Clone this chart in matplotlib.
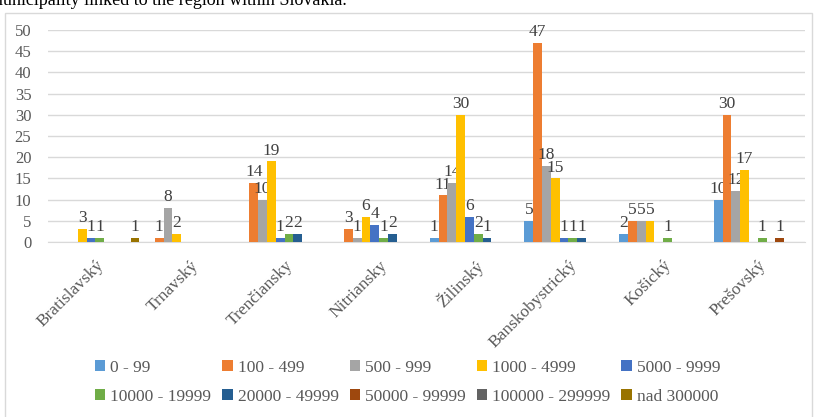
import matplotlib
matplotlib.use("Agg")
import matplotlib.pyplot as plt
import numpy as np
from matplotlib.patches import Rectangle

regions = ["Bratislavský", "Trnavský", "Trenčiansky", "Nitriansky",
           "Žilinský", "Banskobystrický", "Košický", "Prešovský"]

size_classes = ["0 - 99", "100 - 499", "500 - 999", "1000 - 4999", "5000 - 9999",
                "10000 - 19999", "20000 - 49999", "50000 - 99999",
                "100000 - 299999", "nad 300000"]

# counts per size class, one value per region (same order as regions)
s_0_99 = [0, 0, 0, 0, 1, 5, 2, 10]
s_100_499 = [0, 1, 14, 3, 11, 47, 5, 30]
s_500_999 = [0, 8, 10, 1, 14, 18, 5, 12]
s_1000_4999 = [3, 2, 19, 6, 30, 15, 5, 17]
s_5000_9999 = [1, 0, 1, 4, 6, 1, 0, 0]
s_10000_19999 = [1, 0, 2, 1, 2, 1, 1, 1]
s_20000_49999 = [0, 0, 2, 2, 1, 1, 0, 0]
s_50000_99999 = [0, 0, 0, 0, 0, 0, 0, 1]
s_100000_299999 = [0, 0, 0, 0, 0, 0, 0, 0]
s_nad_300000 = [1, 0, 0, 0, 0, 0, 0, 0]

series = [s_0_99, s_100_499, s_500_999, s_1000_4999, s_5000_9999,
          s_10000_19999, s_20000_49999, s_50000_99999, s_100000_299999, s_nad_300000]

colors = ["#5B9BD5", "#ED7D31", "#A5A5A5", "#FFC000", "#4472C4",
          "#70AD47", "#255E91", "#9E480E", "#636363", "#997300"]

plt.rcParams["font.family"] = ["Liberation Serif", "DejaVu Serif"]

fig = plt.figure(figsize=(8.19, 4.17), dpi=100)
ax = fig.add_axes([0.0586, 0.4197, 0.9244, 0.5083])

# chart frame and the cut-off document line above it
fig.patches.append(Rectangle((5 / 819, -0.01), 807 / 819, 1 - 13 / 417 + 0.01,
                             transform=fig.transFigure, fill=False,
                             edgecolor="#D9D9D9", linewidth=1.0))
fig.text(-0.013, 1 - 5 / 417, "municipality linked to the region within Slovakia.",
         fontsize=13, color="black", ha="left", va="baseline")

x = np.arange(len(regions))
n = len(series)
w = 0.093
for i, (vals, c) in enumerate(zip(series, colors)):
    pos = x + (i - (n - 1) / 2) * w
    ax.bar(pos, vals, width=w, color=c, label=size_classes[i], zorder=3)
    for p, v in zip(pos, vals):
        if v > 0:
            ax.annotate(str(v), (p, v), xytext=(0, 2), textcoords="offset points",
                        ha="center", va="bottom", fontsize=12.5, color="#404040",
                        annotation_clip=False)

ax.set_xlim(-0.5, len(regions) - 0.5)
ax.set_ylim(0, 50)
ax.set_yticks(range(0, 51, 5))
ax.yaxis.grid(True, color="#D9D9D9", linewidth=1.0, zorder=0)
for s in ["top", "right", "left"]:
    ax.spines[s].set_visible(False)
ax.spines["bottom"].set_color("#D9D9D9")
ax.tick_params(axis="both", length=0, colors="#595959", labelsize=12)
ax.tick_params(axis="y", pad=12)
ax.tick_params(axis="x", pad=11)
ax.set_xticks(x)
ax.set_xticklabels(regions, rotation=45, ha="right", rotation_mode="anchor",
                   fontsize=12.5, color="#595959")

# legend filled row by row like the original
handles, labels = ax.get_legend_handles_labels()
order = [0, 5, 1, 6, 2, 7, 3, 8, 4, 9]
fig.legend([handles[k] for k in order], [labels[k] for k in order], ncol=5,
           loc="lower left", bbox_to_anchor=(0.101, 0.0), frameon=False,
           fontsize=12.5, labelcolor="#595959", handlelength=0.6, handleheight=0.6,
           handletextpad=0.3, columnspacing=0.62, borderaxespad=0.3,
           labelspacing=0.75)

fig.savefig("out.png", dpi=100)
